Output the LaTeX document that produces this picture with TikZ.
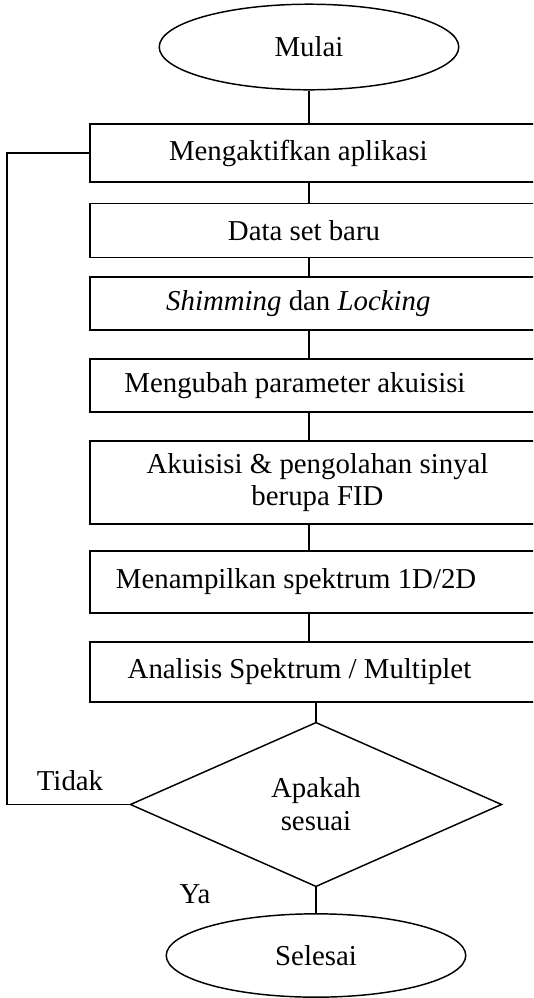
\documentclass[tikz,border=0pt]{standalone}
\usepackage{fontspec}
\setmainfont{Liberation Serif}
\usepackage{tikz}
\usetikzlibrary{shapes.geometric, positioning, calc}
\tikzstyle{terminal} = [
  ellipse, draw, inner sep=0pt,
  minimum width=133pt, minimum height=38pt
]
\tikzstyle{box} = [
  rectangle, draw, inner sep=2pt,
  minimum width=202pt, align=center
]
\tikzstyle{decision} = [
  diamond, draw, inner sep=0pt, align=center,
  minimum width=165pt, minimum height=73pt
]
\tikzstyle{line} = [line width=0.65pt]

\begin{document}
\begin{tikzpicture}[x=0.444pt, y=-0.444pt, line width=0.65pt,
  font=\fontsize{12.8}{14.6}\selectfont]

  \clip (0,0) rectangle (533,998);

  \node[terminal] (mulai) at (309, 47) {Mulai};

  \node[box, minimum height=25.8pt] (aktif) at (317.5, 153) {\hspace*{-17pt}Mengaktifkan aplikasi};
  \node[box, minimum height=24pt] (dataset) at (317.5, 230.5) {\hspace*{-12pt}Data set baru};
  \node[box, minimum height=23.5pt] (shim) at (317.5, 303.5) {\hspace*{-17pt}\textit{Shimming} dan \textit{Locking}};
  \node[box, minimum height=23.5pt] (param) at (317.5, 385.5) {\hspace*{-20pt}Mengubah parameter akuisisi};
  \node[box, minimum height=36.9pt] (akuisisi) at (317.5, 482.5) {Akuisisi \& pengolahan sinyal\\berupa FID};
  \node[box, minimum height=27.5pt] (tampil) at (317.5, 582) {\hspace*{-19pt}Menampilkan spektrum 1D/2D};
  \node[box, minimum height=26.6pt] (analisis) at (317.5, 672) {\hspace*{-16pt}Analisis Spektrum / Multiplet};

  \node[decision] (cek) at (316, 804.5) {Apakah\\sesuai};
  \node[terminal, minimum height=37pt] (selesai) at (316, 955.5) {Selesai};

  \coordinate (balik) at (7, 804.5);

  \node (tidak) at (70, 781) {Tidak};
  \node (ya) at (195, 894) {Ya};

  % alur utama
  \draw[line] (mulai.south) -- (mulai.south |- aktif.north);
  \foreach \a/\b in {aktif/dataset, dataset/shim, shim/param, param/akuisisi,
                     akuisisi/tampil, tampil/analisis}
    \draw[line] (\a.south -| mulai.south) -- (\b.north -| mulai.south);
  \draw[line] (analisis.south -| cek.north) -- (cek.north);
  \draw[line] (cek.south) -- (selesai.north);

  % kembali jika tidak sesuai
  \draw[line] (cek.west) -- (balik) |- (aktif.west);

\end{tikzpicture}
\end{document}
